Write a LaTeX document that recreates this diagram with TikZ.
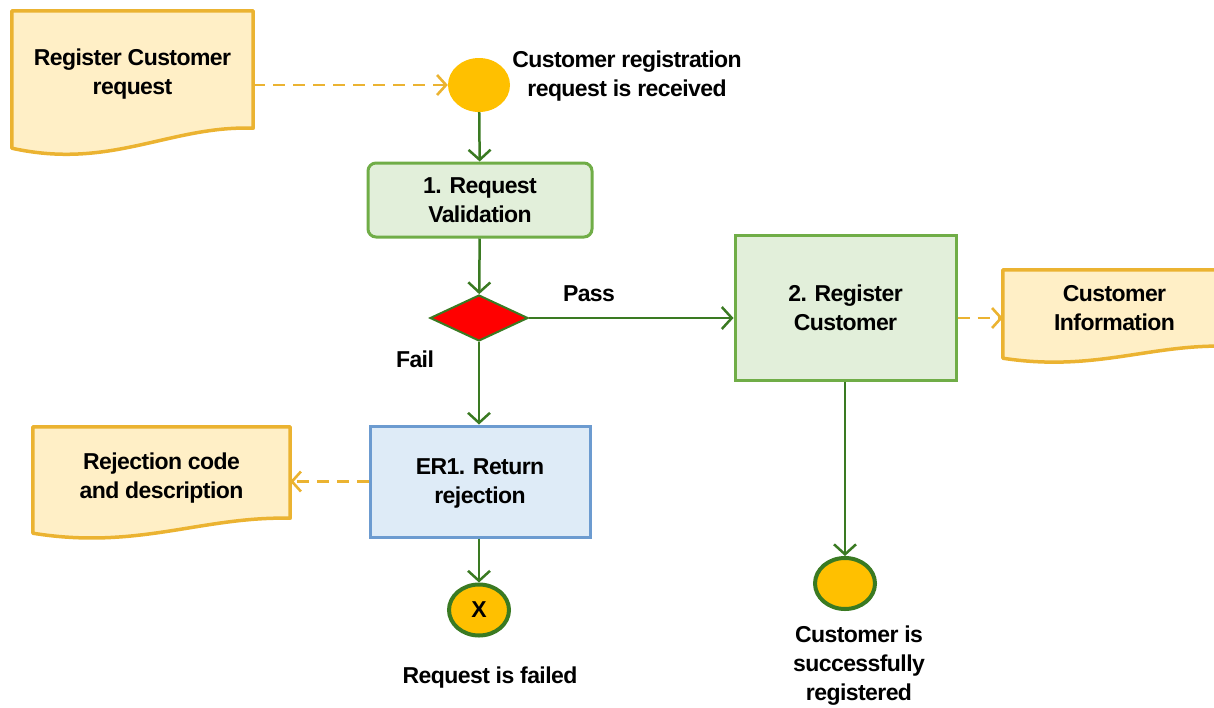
\documentclass[tikz,border=0pt]{standalone}
\usepackage{fontspec}
\setmainfont{Liberation Sans}[LetterSpace=-2.5]
\usetikzlibrary{arrows.meta,shapes.geometric,backgrounds}
\definecolor{docline}{HTML}{EBB331}
\definecolor{docfill}{HTML}{FFEFC6}
\definecolor{evfill}{HTML}{FFC000}
\definecolor{tgreen}{HTML}{70AD47}
\definecolor{tgreenfill}{HTML}{E2EFDA}
\definecolor{tblue}{HTML}{6C9BD0}
\definecolor{tbluefill}{HTML}{DEEBF7}
\definecolor{flowgreen}{HTML}{3A7A22}
\begin{document}
\begin{tikzpicture}[x=1pt,y=-1pt,
  font=\fontsize{23}{29}\selectfont\bfseries,
  every node/.style={align=center, inner sep=0pt},
  docbox/.style={rectangle},
  docshape/.style={draw=docline, fill=docfill, line width=3.5pt, line join=round},
  taskg/.style={rectangle, draw=tgreen, fill=tgreenfill, line width=3pt},
  taskb/.style={rectangle, draw=tblue, fill=tbluefill, line width=3pt},
  evstart/.style={ellipse, fill=evfill, minimum width=62pt, minimum height=54pt},
  evend/.style={ellipse, draw=flowgreen, fill=evfill, line width=4pt, minimum width=60pt, minimum height=51pt},
  gateway/.style={diamond, draw=flowgreen, fill=red, line width=2pt, minimum width=98pt, minimum height=46pt},
  flow/.style={draw=flowgreen, line width=2.5pt, -{Straight Barb[length=10pt,width=22pt,line width=2.5pt]}},
  assoc/.style={draw=docline, line width=2.6pt, dash pattern=on 12pt off 8pt, -{Straight Barb[length=9pt,width=20pt,line width=2.6pt]}},
  lbl/.style={text=black}
]
\useasboundingbox (0,0) rectangle (1214,707);

% documents (text nodes)
\node[docbox, minimum width=241pt, minimum height=117pt] (d1) at (132.5,69.5) {\rule{0pt}{26pt}Register Customer\\request};
\node[docbox, minimum width=257pt, minimum height=91pt] (d3) at (161.5,472.5) {\rule{0pt}{27pt}Rejection code\\and description};
\node[docbox, minimum width=223pt, minimum height=76pt] (d2) at (1114.5,308) {Customer\\Information};

\begin{scope}[on background layer]
\path[docshape] (d1.north west) -- (d1.north east) -- (d1.south east)
  .. controls ([shift={(-83,-3)}]d1.south east) and ([shift={(99,42)}]d1.south west) .. ([shift={(0,20)}]d1.south west) -- cycle;
\path[docshape] (d3.north west) -- (d3.north east) -- (d3.south east)
  .. controls ([shift={(-89,-2)}]d3.south east) and ([shift={(105,32)}]d3.south west) .. ([shift={(0,15)}]d3.south west) -- cycle;
\path[docshape] (d2.north west) -- (d2.north east) -- (d2.south east)
  .. controls ([shift={(-77,-2)}]d2.south east) and ([shift={(91,26)}]d2.south west) .. ([shift={(0,12)}]d2.south west) -- cycle;
\end{scope}

% events
\node[evstart] (start) at (479,85) {};
\node[lbl] (startlbl) at (627,76) {Customer registration\\request is received};

% tasks
\node[taskg, rounded corners=8pt, minimum width=224pt, minimum height=74pt] (t1) at (480,200) {1. Request\\Validation};
\node[gateway] (gw) at (479,318) {};
\node[taskg, minimum width=221pt, minimum height=145pt] (t2) at (845.5,307.5) {2. Register\\Customer};
\node[taskb, minimum width=220pt, minimum height=111pt] (er) at (480,481.5) {\rule{0pt}{19pt}ER1. Return\\rejection};

\node[evend] (fail) at (479,610) {X};
\node[lbl] (faillbl) at (490,678) {Request is failed};
\node[evend] (done) at (845,583.5) {};
\node[lbl] (donelbl) at (859,666) {Customer is\\successfully\\registered};

\node[lbl] (pass) at (589,294) {Pass};
\node[lbl] (failtxt) at (415,359) {Fail};

% connectors
\draw[assoc] (start -| d1.east) -- (start.west);
\draw[flow] (start) -- (t1);
\draw[flow] (t1) -- (gw);
\draw[flow] (gw.east) -- (gw.east -| t2.west);
\draw[flow] (gw) -- (gw |- er.north);
\draw[assoc] (gw -| t2.east) -- (gw -| d2.west);
\draw[assoc] (er.west) -- (er.west -| d3.east);
\draw[flow] (er.south -| fail.north) -- (fail);
\draw[flow] (t2.south -| done.north) -- (done);
\end{tikzpicture}
\end{document}
